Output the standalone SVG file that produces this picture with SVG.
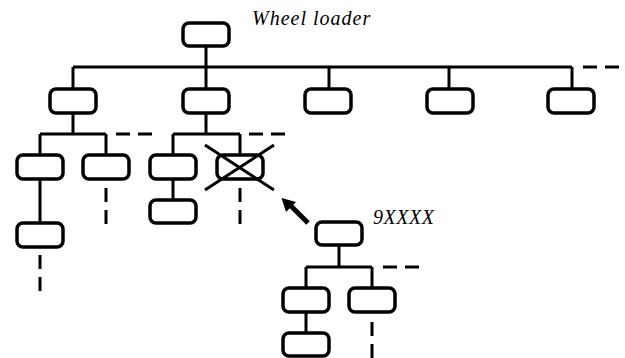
<svg xmlns="http://www.w3.org/2000/svg" width="625" height="358" viewBox="0 0 625 358">
<style>
.n{fill:#fff;stroke:#000;stroke-width:3.5}
.c{fill:none;stroke:#000;stroke-width:3}
.d{fill:none;stroke:#000;stroke-width:3;stroke-dasharray:14 8}
.t{font-family:"Liberation Serif","Times New Roman",serif;font-style:italic;font-size:20px;fill:#000}
</style>
<g id="connectors">
<path class="c" d="M206 46V89M73 67H572M73 67V89M329 67V89M449 67V89M572 67V89"/>
<path class="d" d="M583 67H620"/>
<path class="c" d="M73 113V134M40 134H106M40 134V155M106 134V155M40 179V223"/>
<path class="d" d="M116 134H153M106 188V225M40 255V292"/>
<path class="c" d="M206 113V134M173 134H240M173 134V155M240 134V155M173 179V200"/>
<path class="d" d="M249 134H286M240 188V225"/>
<path class="c" d="M339 245V267M306 267H372M306 267V288M372 267V288M306 312V333"/>
<path class="d" d="M383 267H420M372 322V360"/>
</g>
<g id="n-top"><rect class="n" x="183" y="23" width="46" height="23" rx="6"/></g>
<g id="label-wheel"><text class="t" x="252" y="25" letter-spacing="1">Wheel loader</text></g>
<g id="n-r2-1"><rect class="n" x="50" y="89" width="46" height="24" rx="6"/></g>
<g id="n-r2-2"><rect class="n" x="183" y="89" width="46" height="24" rx="6"/></g>
<g id="n-r2-3"><rect class="n" x="305" y="89" width="46" height="24" rx="6"/></g>
<g id="n-r2-4"><rect class="n" x="427" y="89" width="46" height="24" rx="6"/></g>
<g id="n-r2-5"><rect class="n" x="548" y="89" width="46" height="24" rx="6"/></g>
<g id="n-r3-1"><rect class="n" x="17" y="155" width="46" height="24" rx="6"/></g>
<g id="n-r3-2"><rect class="n" x="83" y="155" width="46" height="24" rx="6"/></g>
<g id="n-r3-3"><rect class="n" x="150" y="155" width="46" height="24" rx="6"/></g>
<g id="n-r3-4"><rect class="n" x="217" y="155" width="46" height="24" rx="6"/>
<path class="c" d="M205 145L274 190M274 145L205 190"/></g>
<g id="n-r4-1"><rect class="n" x="17" y="223" width="46" height="24" rx="6"/></g>
<g id="n-r4-3"><rect class="n" x="150" y="200" width="46" height="23" rx="6"/></g>
<g id="arrow"><path d="M308 223L290 205" stroke="#000" stroke-width="5" fill="none"/>
<polygon points="281.5,198 296,202 286,212" fill="#000"/></g>
<g id="n-9xxxx"><rect class="n" x="316" y="222" width="46" height="23" rx="6"/></g>
<g id="label-9xxxx"><text class="t" x="373" y="224" letter-spacing="0.5">9XXXX</text></g>
<g id="n-s-1"><rect class="n" x="283" y="288" width="46" height="24" rx="6"/></g>
<g id="n-s-2"><rect class="n" x="349" y="288" width="46" height="24" rx="6"/></g>
<g id="n-s-3"><rect class="n" x="283" y="333" width="46" height="23" rx="6"/></g>
</svg>
